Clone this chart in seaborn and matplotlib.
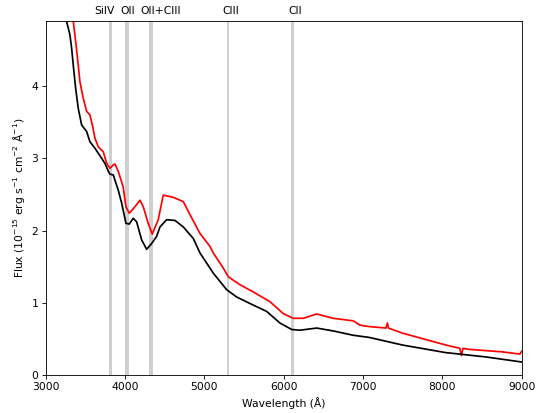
import matplotlib
matplotlib.use("Agg")
import matplotlib.pyplot as plt
import matplotlib.transforms as mtransforms
import seaborn as sns
import pandas as pd

# spectrum (wavelength in A, flux in 1e-15 cgs)
black_wave = [3180, 3263, 3306, 3328, 3348, 3378, 3411, 3454, 3517, 3558, 3621,
              3706, 3747, 3790, 3811, 3852, 3915, 3958, 4012, 4054, 4104, 4147,
              4210, 4273, 4336, 4399, 4441, 4525, 4630, 4735, 4861, 4945, 5071,
              5113, 5282, 5408, 5575, 5786, 5953, 6101, 6205, 6416, 6625, 6877,
              7080, 7497, 8043, 8548, 9000]
black_flux = [5.4, 4.9, 4.71, 4.52, 4.29, 3.97, 3.69, 3.46, 3.37, 3.23, 3.14,
              3.00, 2.93, 2.82, 2.78, 2.77, 2.56, 2.38, 2.10, 2.09, 2.17, 2.12,
              1.87, 1.74, 1.82, 1.92, 2.05, 2.15, 2.14, 2.05, 1.89, 1.69, 1.48,
              1.41, 1.18, 1.08, 0.99, 0.88, 0.72, 0.63, 0.62, 0.65, 0.61, 0.55,
              0.52, 0.415, 0.31, 0.25, 0.18]

red_wave = [3290, 3348, 3378, 3411, 3432, 3474, 3517, 3558, 3589, 3621, 3663,
            3726, 3770, 3811, 3852, 3874, 3915, 3978, 4012, 4054, 4126, 4189,
            4230, 4293, 4343, 4419, 4482, 4608, 4735, 4819, 4945, 5071, 5113,
            5239, 5302, 5449, 5617, 5827, 5995, 6121, 6247, 6416, 6625, 6877,
            6962, 7080, 7290, 7307, 7320, 7497, 8043, 8220, 8240, 8260, 8337,
            8757, 8979, 9000]
red_flux = [5.3, 4.9, 4.62, 4.29, 4.06, 3.83, 3.65, 3.60, 3.46, 3.28, 3.16,
            3.09, 2.93, 2.86, 2.91, 2.92, 2.82, 2.60, 2.33, 2.24, 2.33, 2.42,
            2.33, 2.10, 1.95, 2.15, 2.49, 2.46, 2.40, 2.22, 1.96, 1.78, 1.69,
            1.48, 1.36, 1.25, 1.15, 1.015, 0.85, 0.785, 0.785, 0.845, 0.785, 0.75,
            0.69, 0.67, 0.65, 0.72, 0.65, 0.58, 0.415, 0.37, 0.27, 0.37, 0.355,
            0.32, 0.29, 0.33]

# line bands (low, high) and their labels with label x positions
line_names = ["SiIV", "OII", "OII+CIII", "CIII", "CII"]
band_lo = [3800, 4005, 4305, 5290, 6096]
band_hi = [3835, 4050, 4350, 5310, 6124]
label_x = [3741, 4041, 4456, 5328, 6142]

DPI = 77
fig, ax = plt.subplots(figsize=(537 / DPI, 413 / DPI), dpi=DPI)
fig.subplots_adjust(left=0.085, right=0.9715, top=0.949, bottom=0.092)

for lo, hi in zip(band_lo, band_hi):
    ax.axvspan(lo, hi, color="#cfcfcf", lw=0, zorder=0)

red_df = pd.DataFrame({"wave": red_wave, "flux": red_flux})
black_df = pd.DataFrame({"wave": black_wave, "flux": black_flux})
sns.lineplot(data=red_df, x="wave", y="flux", color="red", lw=1.6,
             sort=False, estimator=None, ax=ax)
sns.lineplot(data=black_df, x="wave", y="flux", color="black", lw=1.6,
             sort=False, estimator=None, ax=ax)

trans = mtransforms.blended_transform_factory(ax.transData, ax.transAxes)
for name, xpos in zip(line_names, label_x):
    ax.text(xpos, 1.013, name, transform=trans, ha="center", va="bottom",
            fontsize=10)

ax.set_xlim(3000, 9000)
ax.set_ylim(0, 4.9)
ax.set_xticks([3000, 4000, 5000, 6000, 7000, 8000, 9000])
ax.set_yticks([0, 1, 2, 3, 4])
ax.set_xlabel("Wavelength (Å)")
ax.set_ylabel("Flux (10$^{-15}$ erg s$^{-1}$ cm$^{-2}$ Å$^{-1}$)")

fig.savefig("out.png", dpi=DPI)
